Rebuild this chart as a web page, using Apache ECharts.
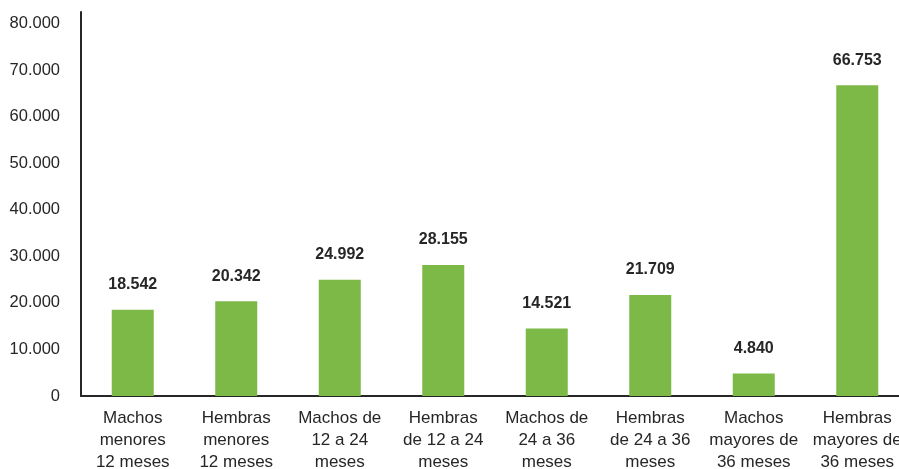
<!DOCTYPE html>
<html>
<head>
<meta charset="utf-8">
<script src="https://cdn.jsdelivr.net/npm/echarts@6/dist/echarts.min.js"></script>
<style>
  html, body { margin: 0; padding: 0; background: #fff; }
  #chart { width: 899px; height: 469px; }
</style>
</head>
<body>
<div id="chart"></div>
<script>
const categories = [
  "Machos\nmenores\n12 meses",
  "Hembras\nmenores\n12 meses",
  "Machos de\n12 a 24\nmeses",
  "Hembras\nde 12 a 24\nmeses",
  "Machos de\n24 a 36\nmeses",
  "Hembras\nde 24 a 36\nmeses",
  "Machos\nmayores de\n36 meses",
  "Hembras\nmayores de\n36 meses",
];
const cabezas = [18542, 20342, 24992, 28155, 14521, 21709, 4840, 66753];

const font = '"Liberation Sans", Arial, sans-serif';
const fmt = (v) => String(v).replace(/\B(?=(\d{3})+(?!\d))/g, ".");

const chart = echarts.init(document.getElementById("chart"));
chart.setOption({
  animation: false,
  grid: { left: 81, top: 12, bottom: 73, width: 828, outerBoundsMode: "none" },
  xAxis: {
    type: "category",
    data: categories,
    axisLine: { lineStyle: { color: "#262626", width: 2 } },
    axisTick: { show: false },
    axisLabel: {
      interval: 0,
      margin: 11,
      color: "#262626",
      fontFamily: font,
      fontSize: 17,
      lineHeight: 22,
    },
  },
  yAxis: {
    type: "value",
    min: 0,
    max: 82500,
    interval: 10000,
    splitLine: { show: false },
    axisTick: { show: false },
    axisLine: { show: true, lineStyle: { color: "#262626", width: 2 } },
    axisLabel: {
      margin: 21,
      color: "#262626",
      fontFamily: font,
      fontSize: 16.5,
      formatter: (v) => (v % 10000 ? "" : fmt(v)),
    },
  },
  series: [
    {
      type: "bar",
      data: cabezas,
      barWidth: 42,
      itemStyle: { color: "#7db946" },
      label: {
        show: true,
        position: "top",
        distance: 17,
        color: "#262626",
        fontFamily: font,
        fontWeight: "bold",
        fontSize: 16,
        formatter: (p) => fmt(p.value),
      },
    },
  ],
});
</script>
</body>
</html>
